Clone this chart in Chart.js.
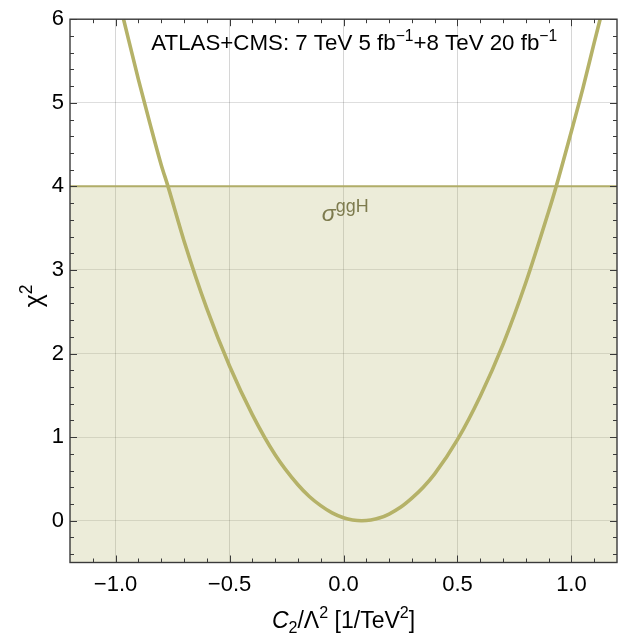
<!DOCTYPE html>
<html>
<head>
<meta charset="utf-8">
<script src="https://cdn.jsdelivr.net/npm/chart.js@4/dist/chart.umd.min.js"></script>
<style>
  html, body { margin: 0; padding: 0; background: #fff; }
  #wrap { width: 622px; height: 635px; }
</style>
</head>
<body>
<div id="wrap"><canvas id="chart" width="622" height="635"></canvas></div>
<script>
// chi^2 curve
var curveX = [-0.965, -0.9, -0.85, -0.8, -0.77, -0.7, -0.6, -0.5, -0.4, -0.3, -0.2, -0.15, -0.1, -0.05,
              0.0, 0.04, 0.08, 0.12, 0.16, 0.2, 0.25, 0.3, 0.35, 0.4, 0.5, 0.6, 0.7, 0.8, 0.9, 0.93, 1.0, 1.05, 1.1, 1.126];
var curveY = [6.0, 5.28, 4.76, 4.26, 4.0, 3.35, 2.54, 1.85, 1.27, 0.79, 0.43, 0.29, 0.18, 0.093,
              0.035, 0.009, 0.0, 0.009, 0.035, 0.08, 0.16, 0.27, 0.40, 0.56, 0.97, 1.49, 2.11, 2.85, 3.70, 3.97, 4.66, 5.17, 5.72, 6.0];
// 2 sigma band (chi^2 < 4)
var bandX = [-1.2, 1.2];
var bandY = [4, 4];

var xTicks = [-1.0, -0.5, 0.0, 0.5, 1.0];
var yTicks = [0, 1, 2, 3, 4, 5, 6];
var xMinor = [-1.1, -0.9, -0.8, -0.7, -0.6, -0.4, -0.3, -0.2, -0.1, 0.1, 0.2, 0.3, 0.4, 0.6, 0.7, 0.8, 0.9, 1.1];
var yMinor = [-0.4, -0.2, 0.2, 0.4, 0.6, 0.8, 1.2, 1.4, 1.6, 1.8, 2.2, 2.4, 2.6, 2.8,
              3.2, 3.4, 3.6, 3.8, 4.2, 4.4, 4.6, 4.8, 5.2, 5.4, 5.6, 5.8];

var FONT = "'Liberation Sans', Arial, sans-serif";
var OLIVE = 'rgb(181,178,104)';

function pts(xs, ys) {
    return xs.map(function(x, i) { return {x: x, y: ys[i]}; });
}

function fmt(v) {
    var s = Math.abs(v).toFixed(1);
    return v < 0 ? '\u2212' + s : s;
}

// draw a run of text pieces: [text, kind] with kind '', 'it', 'sup', 'sub'
function drawRuns(ctx, runs, x, y, size, align, supScale) {
    supScale = supScale || 0.72;
    function fontFor(kind) {
        var sz = (kind == 'sup' || kind == 'sub') ? size * supScale : size;
        var st = (kind == 'it') ? 'italic ' : '';
        return st + sz + 'px ' + FONT;
    }
    var total = 0;
    runs.forEach(function(r) {
        ctx.font = fontFor(r[1]);
        total += ctx.measureText(r[0]).width;
    });
    var cx = x;
    if (align == 'center') cx = x - total / 2;
    ctx.textBaseline = 'alphabetic';
    ctx.textAlign = 'left';
    runs.forEach(function(r) {
        ctx.font = fontFor(r[1]);
        var dy = 0;
        if (r[1] == 'sup') dy = -size * 0.42;
        if (r[1] == 'sub') dy = size * 0.22;
        ctx.fillText(r[0], cx, y + dy);
        cx += ctx.measureText(r[0]).width;
    });
}

var decorations = {
    id: 'decorations',
    afterDatasetsDraw: function(chart) {
        var ctx = chart.ctx;
        var a = chart.chartArea;
        var xs = chart.scales.x, ys = chart.scales.y;
        ctx.save();

        // frame
        ctx.strokeStyle = '#3a3a3a';
        ctx.lineWidth = 1.4;
        ctx.strokeRect(a.left, a.top, a.right - a.left, a.bottom - a.top);

        // inward ticks on all four sides
        ctx.lineWidth = 1;
        function xt(v, len) {
            var px = Math.round(xs.getPixelForValue(v)) + 0.5;
            ctx.beginPath();
            ctx.moveTo(px, a.bottom); ctx.lineTo(px, a.bottom - len);
            ctx.moveTo(px, a.top); ctx.lineTo(px, a.top + len);
            ctx.stroke();
        }
        function yt(v, len) {
            var py = Math.round(ys.getPixelForValue(v)) + 0.5;
            ctx.beginPath();
            ctx.moveTo(a.left, py); ctx.lineTo(a.left + len, py);
            ctx.moveTo(a.right, py); ctx.lineTo(a.right - len, py);
            ctx.stroke();
        }
        xTicks.forEach(function(v) { xt(v, 7); });
        xMinor.forEach(function(v) { xt(v, 4); });
        yTicks.forEach(function(v) { yt(v, 7); });
        yMinor.forEach(function(v) { yt(v, 4); });

        // header
        ctx.fillStyle = '#000';
        drawRuns(ctx, [['ATLAS+CMS: 7 TeV 5 fb', ''], ['\u22121', 'sup'], ['+8 TeV 20 fb', ''], ['\u22121', 'sup']],
                 xs.getPixelForValue(0.047), ys.getPixelForValue(5.63), 22.3, 'center', 0.7);

        // band label
        ctx.fillStyle = 'rgb(125,123,78)';
        drawRuns(ctx, [['\u03c3', 'it'], ['ggH', 'sup']],
                 xs.getPixelForValue(-0.095), ys.getPixelForValue(3.58), 23, 'left', 0.78);

        // x title
        ctx.fillStyle = '#000';
        drawRuns(ctx, [['C', 'it'], ['2', 'sub'], ['/\u039b', ''], ['2', 'sup'], [' [1/TeV', ''], ['2', 'sup'], [']', '']],
                 (a.left + a.right) / 2, 628, 23, 'center', 0.7);

        // y title
        ctx.translate(42, (a.top + a.bottom) / 2 + 5);
        ctx.rotate(-Math.PI / 2);
        drawRuns(ctx, [['\u03c7', ''], ['2', 'sup']], 0, 0, 25, 'center', 0.7);

        ctx.restore();
    }
};

new Chart(document.getElementById('chart'), {
    type: 'scatter',
    data: {
        datasets: [
            {
                data: pts(curveX, curveY),
                showLine: true,
                borderColor: OLIVE,
                borderWidth: 3.6,
                pointRadius: 0,
                cubicInterpolationMode: 'monotone',
                fill: false,
                order: 0
            },
            {
                data: pts(bandX, bandY),
                showLine: true,
                borderColor: 'rgb(176,173,104)',
                borderWidth: 2,
                pointRadius: 0,
                backgroundColor: 'rgba(181,178,104,0.25)',
                fill: 'start',
                order: 1
            }
        ]
    },
    options: {
        responsive: false,
        animation: false,
        events: [],
        layout: { padding: { top: 15, right: 5, left: 0, bottom: 0 } },
        plugins: { legend: { display: false }, tooltip: { enabled: false } },
        scales: {
            x: {
                type: 'linear',
                min: -1.2,
                max: 1.2,
                afterBuildTicks: function(scale) {
                    scale.ticks = xTicks.map(function(v) { return {value: v}; });
                },
                afterFit: function(scale) { scale.height = 72.5; },
                grid: { color: 'rgba(0,0,0,0.16)', lineWidth: 1, drawTicks: false },
                border: { display: false },
                ticks: {
                    padding: 9,
                    color: '#000',
                    font: { family: FONT, size: 22 },
                    maxRotation: 0,
                    callback: function(v) { return fmt(v); }
                }
            },
            y: {
                type: 'linear',
                min: -0.5,
                max: 6,
                afterBuildTicks: function(scale) {
                    scale.ticks = yTicks.map(function(v) { return {value: v}; });
                },
                afterFit: function(scale) { scale.width = 70; },
                grid: { color: 'rgba(0,0,0,0.13)', lineWidth: 1, drawTicks: false },
                border: { display: false },
                ticks: {
                    padding: 6,
                    color: '#000',
                    font: { family: FONT, size: 22 },
                    callback: function(v) { return String(v); }
                }
            }
        }
    },
    plugins: [decorations]
});
</script>
</body>
</html>
